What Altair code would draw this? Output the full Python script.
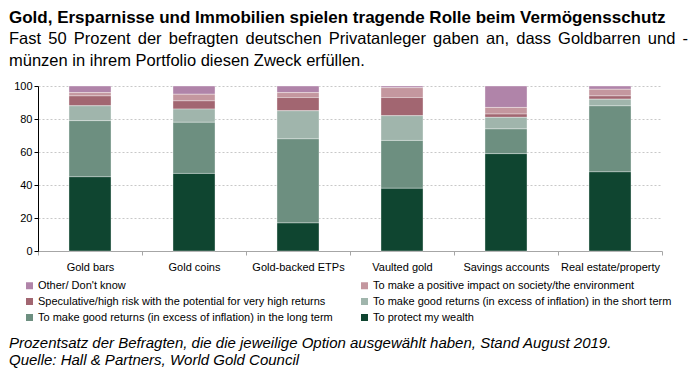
import altair as alt
import pandas as pd

# ---------------- data ----------------
categories = ["Gold bars", "Gold coins", "Gold-backed ETPs", "Vaulted gold",
              "Savings accounts", "Real estate/property"]

series_names = [
    "Other/ Don't know",
    "To make a positive impact on society/the environment",
    "Speculative/high risk with the potential for very high returns",
    "To make good returns (in excess of inflation) in the short term",
    "To make good returns (in excess of inflation) in the long term",
    "To protect my wealth",
]

other_dont_know = [4, 5, 4, 1, 13, 2]
positive_impact = [2, 4, 3, 6, 4, 4]
speculative = [6, 5, 8, 11, 2, 2]
short_term = [9, 8, 17, 15, 7, 4]
long_term = [34, 31, 51, 29, 15, 40]
protect_wealth = [45, 47, 17, 38, 59, 48]

colors = ["#b084a9", "#c4979f", "#a26671", "#a0b5ac", "#6d8f80", "#0f4530"]

y_ticks = [0, 20, 40, 60, 80, 100]

title_text = "Gold, Ersparnisse und Immobilien spielen tragende Rolle beim Vermögensschutz"
subtitle_line1_words = ["Fast", "50", "Prozent", "der", "befragten", "deutschen",
                        "Privatanleger", "gaben", "an,", "dass", "Goldbarren", "und", "-"]
subtitle_line2 = "münzen in ihrem Portfolio diesen Zweck erfüllen."
footnote_lines = [
    "Prozentsatz der Befragten, die die jeweilige Option ausgewählt haben, Stand August 2019.",
    "Quelle: Hall & Partners, World Gold Council",
]

# ---------------- layout (pixels) ----------------
FONT = "Liberation Sans"
W, H = 624, 165
PAD_L, PAD_T, PAD_R = 30, 78, 27
TOTAL_H = 361
PAD_B = TOTAL_H - PAD_T - H
TEXT_X = -29
# word start positions for the justified first subtitle line (relative to plot left)
word_x = [-29, 10.2, 35.7, 99.7, 130.7, 207.5, 290.8, 395.1, 448.1, 478.2, 520.1, 609.8, 644.5]

series_values = [other_dont_know, positive_impact, speculative, short_term,
                 long_term, protect_wealth]
rows = []
for s_idx, (name, vals) in enumerate(zip(series_names, series_values)):
    for cat, v in zip(categories, vals):
        rows.append({"category": cat, "series": name, "value": v,
                     "stack_rank": len(series_names) - 1 - s_idx})
df = pd.DataFrame(rows)

bars = alt.Chart(df).mark_bar(
    width=alt.RelativeBandSize(0.404), stroke="#ffffff", strokeWidth=0.6, strokeOpacity=0.6
).encode(
    x=alt.X("category:N", sort=categories,
            scale=alt.Scale(paddingInner=0, paddingOuter=0),
            axis=alt.Axis(title=None, labelAngle=0, domainColor="#a6a6a6", tickColor="#a6a6a6",
                          tickSize=4, tickBand="extent", labelFontSize=11, labelFont=FONT,
                          labelColor="#000000", labelPadding=6, grid=False)),
    y=alt.Y("value:Q", stack="zero", scale=alt.Scale(domain=[0, 100], nice=False),
            axis=alt.Axis(title=None, values=y_ticks, domainColor="#000000", tickColor="#000000",
                          tickSize=4, labelFontSize=11, labelFont=FONT, labelColor="#000000",
                          labelPadding=2, gridColor="#c8c8c8", gridDash=[2, 2])),
    color=alt.Color("series:N", scale=alt.Scale(domain=series_names, range=colors),
                    legend=alt.Legend(title=None, orient="none", legendX=-14, legendY=194,
                                      direction="horizontal", columns=2, symbolType="square",
                                      symbolSize=49, symbolStrokeWidth=0, labelFontSize=11,
                                      labelFont=FONT, labelColor="#000000", labelOffset=3,
                                      columnPadding=26, rowPadding=4, padding=0, labelLimit=400)),
    order=alt.Order("stack_rank:Q", sort="ascending"),
)


def text_layer(text, x, y, **kw):
    return alt.Chart(pd.DataFrame({"t": [text]})).mark_text(
        align="left", baseline="alphabetic", font=FONT, color="#000000", **kw
    ).encode(x=alt.value(x), y=alt.value(y), text="t:N")


layers = [bars, text_layer(title_text, TEXT_X, -63, fontSize=17, fontWeight="bold")]
for w, xw in zip(subtitle_line1_words, word_x):
    layers.append(text_layer(w, xw, -42, fontSize=16.5))
layers.append(text_layer(subtitle_line2, TEXT_X, -20, fontSize=16.5))
layers.append(text_layer(footnote_lines[0], TEXT_X, 262, fontSize=15, fontStyle="italic"))
layers.append(text_layer(footnote_lines[1], TEXT_X, 279, fontSize=15, fontStyle="italic"))

chart = alt.layer(*layers).properties(
    width=W, height=H,
    autosize=alt.AutoSizeParams(type="none"),
    padding={"left": PAD_L, "top": PAD_T, "right": PAD_R, "bottom": PAD_B},
).configure_view(strokeWidth=0)

chart.save("out.html", embed_options={"renderer": "svg", "actions": False})
